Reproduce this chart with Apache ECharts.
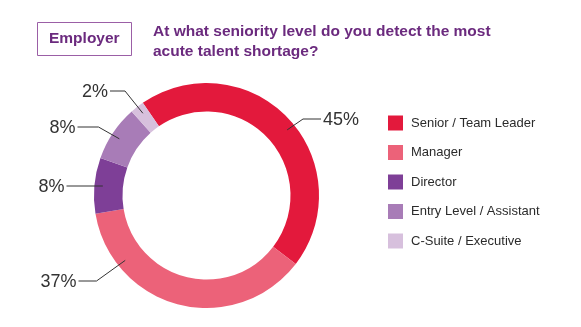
<!DOCTYPE html>
<html>
<head>
<meta charset="utf-8">
<script src="https://cdn.jsdelivr.net/npm/echarts@6/dist/echarts.min.js"></script>
<style>
html,body{margin:0;padding:0;background:#fff;}
#chart{width:581px;height:327px;}
</style>
</head>
<body>
<div id="chart"></div>
<script>
// ---- data ----
const categories = ['Senior / Team Leader', 'Manager', 'Director', 'Entry Level / Assistant', 'C-Suite / Executive'];
const values = [45, 37, 8, 8, 2];
const labelTexts = ['45%', '37%', '8%', '8%', '2%'];
const colors = ['#e3193c', '#ec6279', '#7e3f97', '#a87cb7', '#d7c0dd'];

// ---- layout ----
const CX = 206.5, CY = 195.5, R_IN = 84, R_OUT = 112.5;
const START = 124.5;
// where on each slice the leader line starts (fraction of slice span)
const anchorFrac = [0.527, 0.78, 0.48, 0.47, 0.55];
const anchorR = 104;
// label text placement: [x, y, align, horizontal segment length]
const labelPlace = [
  [323, 120.5, 'left', 18],
  [76.5, 282.5, 'right', 18],
  [64.5, 187.5, 'right', 0],
  [75.5, 128.5, 'right', 21],
  [108, 92.5, 'right', 15]
];

const total = values.reduce((a, b) => a + b, 0);
const anchors = [];
let acc = 0;
values.forEach((v, i) => {
  const a0 = START - acc / total * 360;
  const a1 = a0 - v / total * 360;
  const a = (a0 + (a1 - a0) * anchorFrac[i]) * Math.PI / 180;
  anchors.push([CX + anchorR * Math.cos(a), CY - anchorR * Math.sin(a)]);
  acc += v;
});

const chart = echarts.init(document.getElementById('chart'), null, {renderer: 'canvas'});
const FONT = 'Liberation Sans, Arial, Helvetica, sans-serif';
const pieData = categories.map((c, i) => ({name: c, value: values[i]}));

chart.setOption({
  animation: false,
  color: colors,
  title: [
    {
      text: 'Employer',
      left: 37, top: 22,
      padding: [8, 12, 8, 12],
      borderColor: '#9b5fa6', borderWidth: 1,
      textStyle: {fontFamily: FONT, fontSize: 15.5, fontWeight: 'bold', color: '#6b2a7e', lineHeight: 18}
    },
    {
      text: 'At what seniority level do you detect the most\nacute talent shortage?',
      left: 148, top: 17,
      textStyle: {fontFamily: FONT, fontSize: 15.5, fontWeight: 'bold', color: '#6b2a7e', lineHeight: 20}
    }
  ],
  legend: {
    orient: 'vertical',
    left: 388, top: 115.5,
    padding: 0,
    itemWidth: 15, itemHeight: 15, itemGap: 14.5,
    icon: 'rect',
    selectedMode: false,
    data: categories,
    textStyle: {fontFamily: FONT, fontSize: 13, color: '#2b2b2b', padding: [0, 0, 0, 3]}
  },
  series: [{
    type: 'pie',
    z: 2,
    center: [CX, CY],
    radius: [R_IN, R_OUT],
    startAngle: START,
    clockwise: true,
    silent: true,
    itemStyle: {borderWidth: 0},
    label: {show: false},
    labelLine: {show: false},
    data: pieData
  }, {
    type: 'pie',
    z: 3,
    center: [CX, CY],
    radius: [R_IN, R_OUT],
    startAngle: START,
    clockwise: true,
    silent: true,
    legendHoverLink: false,
    itemStyle: {color: 'rgba(0,0,0,0)', borderWidth: 0},
    data: pieData,
    label: {
      show: true,
      position: 'outside',
      formatter: p => labelTexts[p.dataIndex],
      fontFamily: FONT,
      fontSize: 18,
      color: '#333333'
    },
    labelLine: {
      show: true,
      lineStyle: {color: '#333333', width: 1}
    },
    labelLayout: function (params) {
      const i = params.dataIndex;
      const [tx, ty, align, h] = labelPlace[i];
      const dir = align === 'left' ? -1 : 1;
      const ly = ty - 1.5;
      const end = [tx + dir * 2, ly];
      const pts = h > 0
        ? [anchors[i], [end[0] + dir * h, ly], end]
        : [[anchors[i][0], ly], [end[0] + 0.001 * dir, ly], end];
      return {
        x: tx, y: ty,
        align: align,
        verticalAlign: 'middle',
        labelLinePoints: pts
      };
    }
  }]
});
</script>
</body>
</html>
